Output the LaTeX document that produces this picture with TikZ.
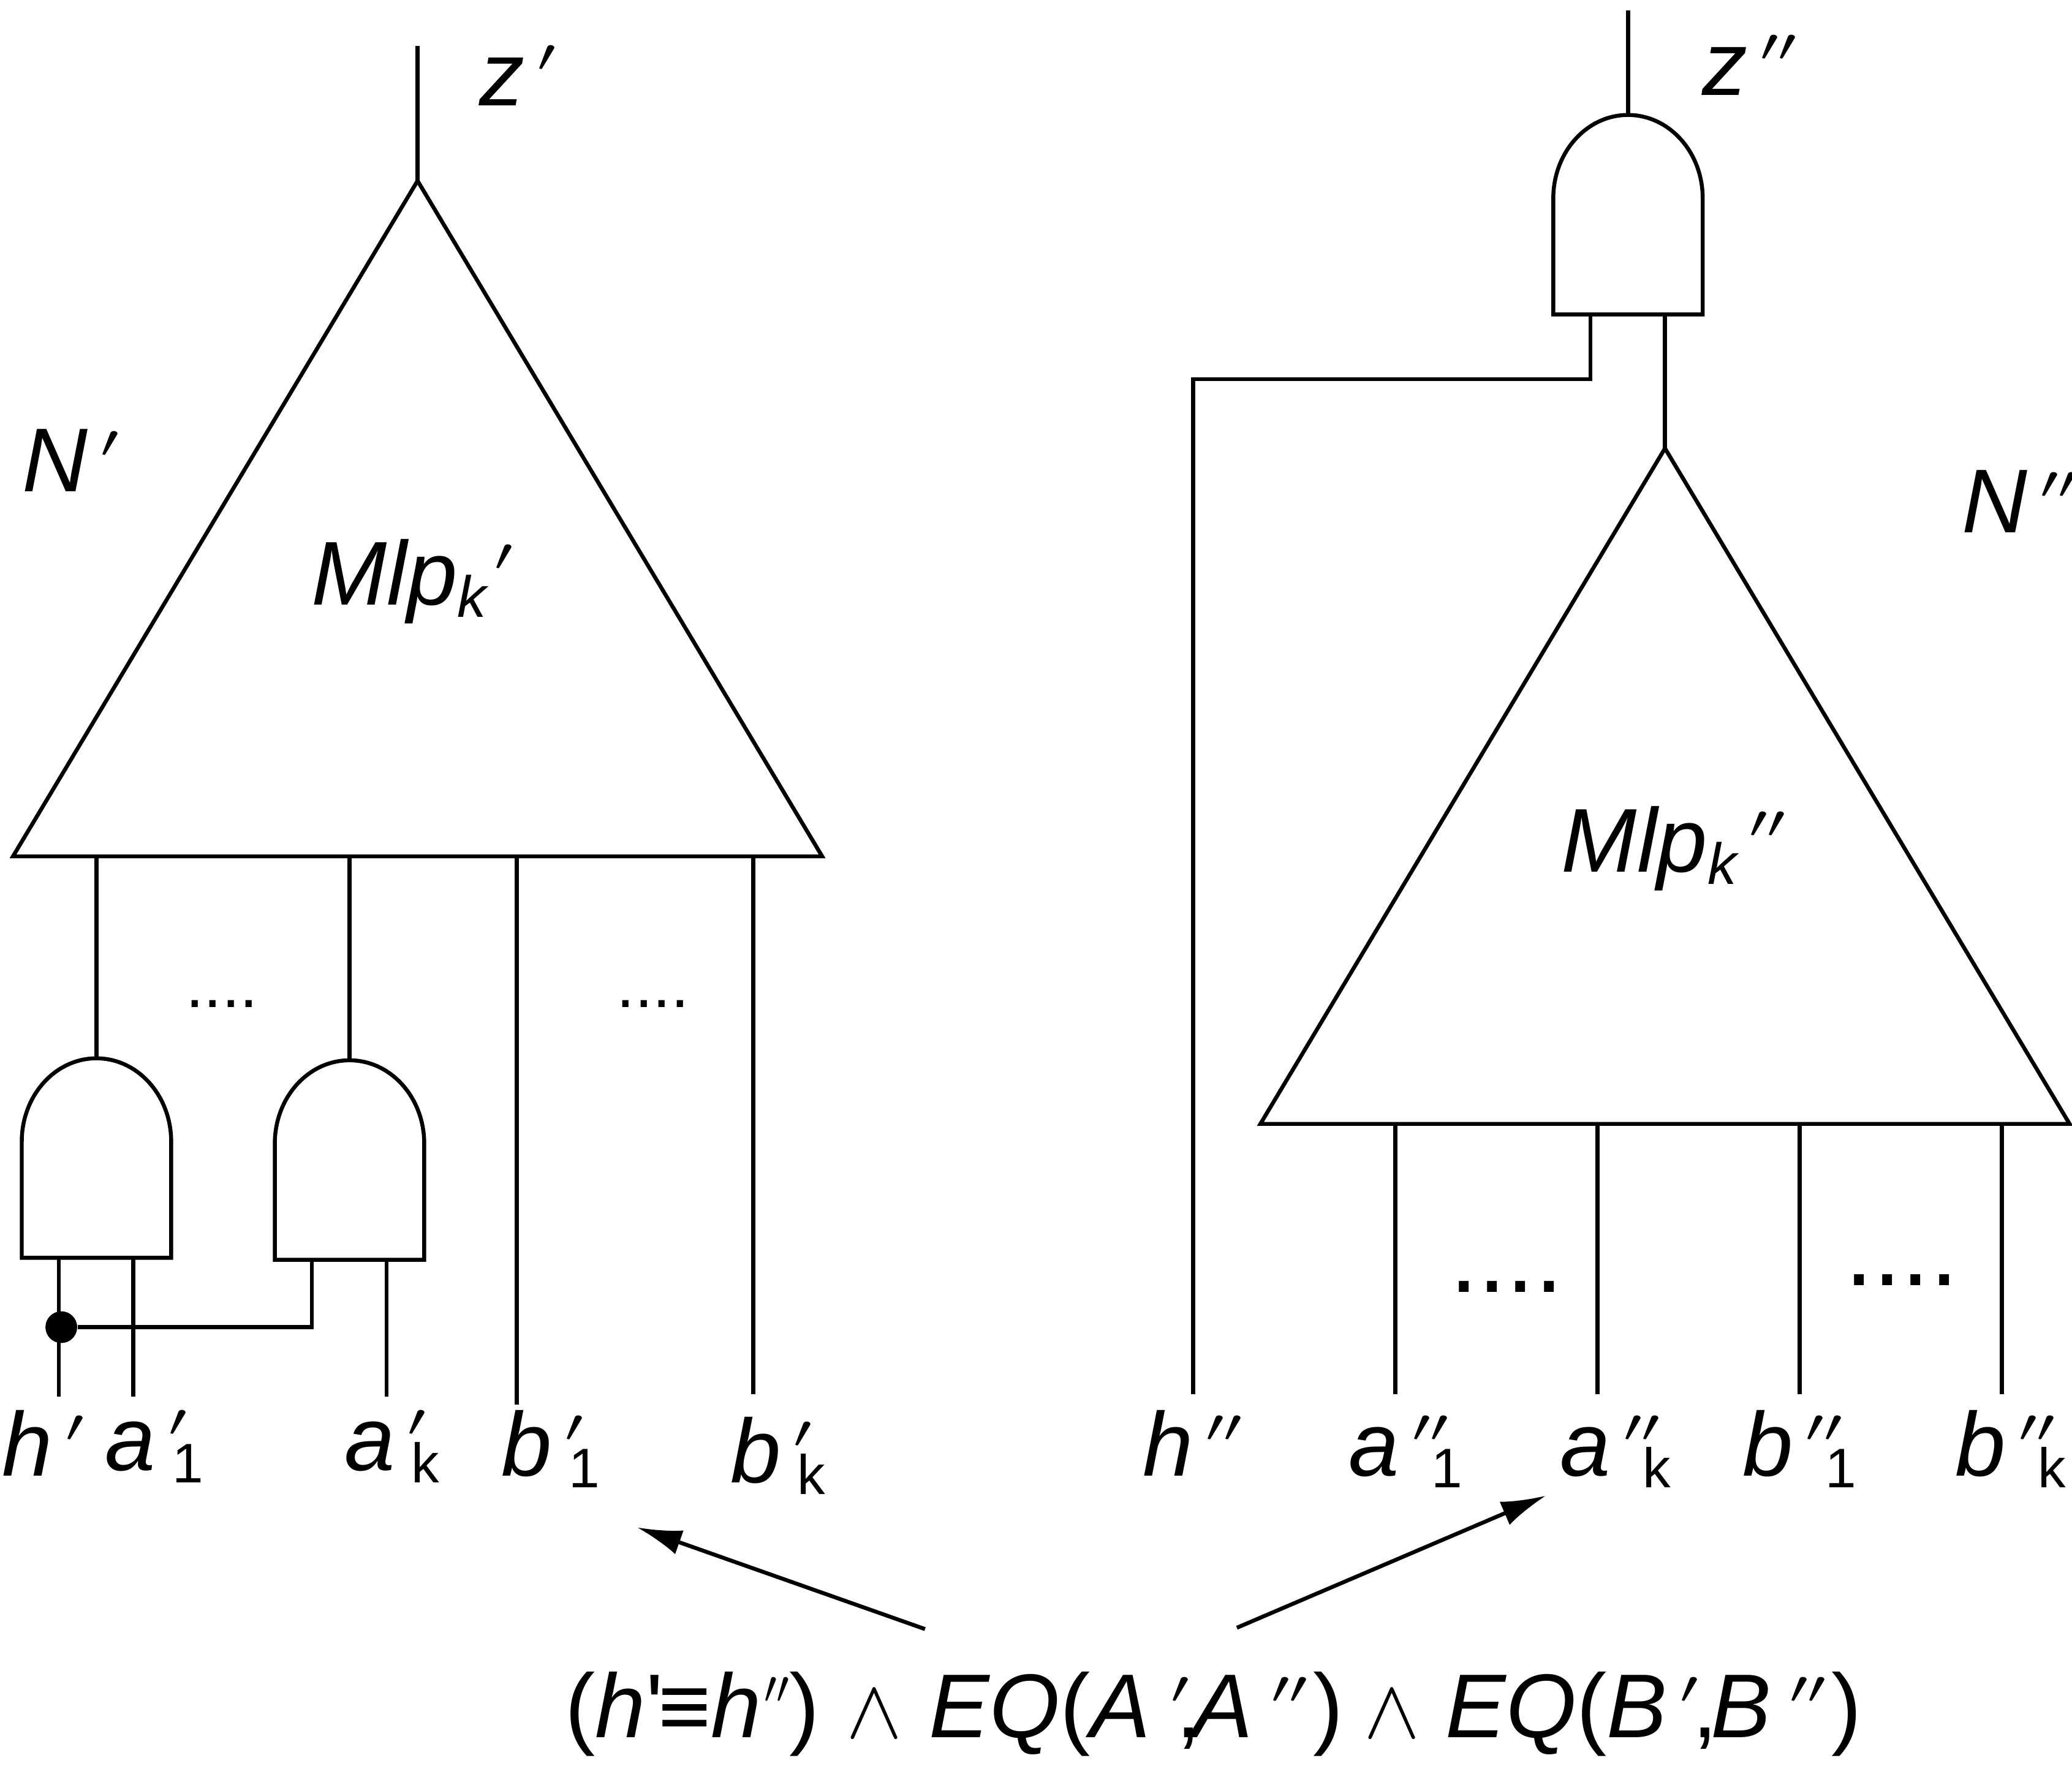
\documentclass[tikz,border=0pt]{standalone}
\usepackage{fontspec}
\setmainfont{Liberation Sans}
\newfontfamily\plainfont{Liberation Sans}
\usetikzlibrary{arrows.meta}
\def\primeglyph{\raisebox{7.4pt}{\scalebox{1.4}[1]{\fontsize{10}{12}\selectfont$\prime$}}}
\def\pr{\kern2.8pt\primeglyph\kern-1.25pt}
\def\dpr{\kern2.8pt\primeglyph\primeglyph\kern-1.7pt}
\def\conj{\scalebox{0.87}{$\wedge$}}
\def\lowtext#1{\raisebox{-2.6pt}{\fontsize{12.5}{14}\selectfont #1}}
\def\subtext#1{\kern-1.8pt\raisebox{-2.6pt}{\fontsize{12}{14}\selectfont\upshape #1}}
\tikzset{
  lbl/.style={anchor=base west,inner sep=0pt,font=\fontsize{19.5}{22}\selectfont\itshape},
  dotsmall/.style={inner sep=0pt,font=\fontsize{14}{16}\selectfont},
  dotlarge/.style={inner sep=0pt,font=\fontsize{22}{24}\selectfont},
  andgate/.style={inner sep=0pt,outer sep=0pt,minimum width=1.13cm,minimum height=1.51cm,
    append after command={(\tikzlastnode.south west) -- (\tikzlastnode.south east) -- ++(0,-88)
      arc[start angle=0,end angle=180,x radius=0.565cm,y radius=0.63cm] -- cycle}},
  blocktri/.style={inner sep=0pt,outer sep=0pt,minimum width=6.12cm,minimum height=5.11cm,
    append after command={(\tikzlastnode.south west) -- (\tikzlastnode.south east) -- (\tikzlastnode.north) -- cycle}},
  jdot/.style={circle,fill=black,inner sep=0pt,minimum size=0.24cm},
  wire/.style={line width=0.85pt},
  pointer/.style={line width=0.85pt,-{Latex[length=0.34cm,width=0.19cm]}}
}
\begin{document}
\begin{tikzpicture}[x=0.01cm,y=-0.01cm]
\useasboundingbox (0,0) rectangle (1568,1336.6);
\draw[wire] (316,392.5) node[blocktri] (mlpa) {};
\draw[wire] (1260,595) node[blocktri] (mlpb) {};
\draw[wire] (73,876.5) node[andgate] (gatea) {};
\draw[wire] (264.5,878) node[andgate] (gateb) {};
\draw[wire] (1232,162.5) node[andgate] (gatec) {};
\coordinate (zpend) at (316,35);
\coordinate (zqend) at (1232,8);
\coordinate (hpend) at (44.6,1057);
\coordinate (apend) at (100.8,1057);
\coordinate (akend) at (292.5,1057);
\coordinate (bpend) at (391,1063);
\coordinate (bkend) at (570,1055);
\coordinate (gbin) at (236,1004.5);
\coordinate (hqend) at (903,1055);
\coordinate (hqturn) at (903,287);
\coordinate (gcin) at (1203.5,287);
\coordinate (aqend) at (1056,1055);
\coordinate (alend) at (1209,1055);
\coordinate (bqend) at (1362,1055);
\coordinate (bmend) at (1515,1055);
\draw[wire] (zpend) -- (mlpa.north);
\draw[wire] (gatea.north) -- (gatea.north |- mlpa.south);
\draw[wire] (gateb.north) -- (gateb.north |- mlpa.south);
\draw[wire] (bpend |- mlpa.south) -- (bpend);
\draw[wire] (bkend |- mlpa.south) -- (bkend);
\draw[wire] (hpend |- gatea.south) -- (hpend);
\draw[wire] (apend |- gatea.south) -- (apend);
\draw[wire] (akend |- gateb.south) -- (akend);
\node[jdot] (junc) at (46.4,1004.5) {};
\draw[wire] (junc) -- (gbin) -- (gbin |- gateb.south);
\draw[wire] (zqend) -- (gatec.north);
\draw[wire] (hqend) -- (hqturn) -- (gcin) -- (gcin |- gatec.south);
\draw[wire] (mlpb.north |- gatec.south) -- (mlpb.north);
\foreach \e in {aqend,alend,bqend,bmend}
  \draw[wire] (\e |- mlpb.south) -- (\e);
\node[lbl] (zplbl) at (362,80) {z\pr};
\node[lbl] (zqlbl) at (1287.5,72) {z\dpr};
\node[lbl] (nplbl) at (16,372) {N\pr};
\node[lbl] (nqlbl) at (1484,403) {N\dpr};
\node[lbl] (mlpalbl) at (235,458) {Mlp\lowtext{k}\kern-1pt\pr};
\node[lbl] (mlpblbl) at (1181,660) {Mlp\lowtext{k}\dpr};
\node[lbl] (hplbl) at (1,1117) {h\pr};
\node[lbl] (aplbl) at (79,1113) {a\pr\subtext{1}};
\node[lbl] (aklbl) at (260,1113) {a\pr\subtext{k}};
\node[lbl] (bplbl) at (379,1117) {b\pr\subtext{1}};
\node[lbl] (bklbl) at (552,1122) {b\pr\subtext{k}};
\node[lbl] (hqlbl) at (864,1117) {h\dpr};
\node[lbl] (aqlbl) at (1020,1117) {a\dpr\subtext{1}};
\node[lbl] (allbl) at (1180,1117) {a\dpr\subtext{k}};
\node[lbl] (bqlbl) at (1318,1117) {b\dpr\subtext{1}};
\node[lbl] (bmlbl) at (1479,1117) {b\dpr\subtext{k}};
\node[dotsmall] (dotsa) at (168,760) {....};
\node[dotsmall] (dotsb) at (494,760) {....};
\node[dotlarge] (dotsc) at (1140,974) {....};
\node[dotlarge] (dotsd) at (1439,969) {....};
\node[lbl,font=\fontsize{19.5}{22}\selectfont] (eqlbl) at (427,1315) {(\textit{h}{\plainfont\char"27}\kern-1pt≡\textit{h}\kern-1.4pt\scalebox{0.7}[1]{\dpr}\kern1.2pt)\kern5.8pt\conj\kern5.8pt\textit{EQ}(\textit{A}\kern1.5pt\pr\kern-1.5pt,\kern-1.8pt\textit{A}\kern1.1pt\dpr\kern3pt)\kern4.5pt\conj\kern5.5pt\textit{EQ}(\textit{B}\pr,\kern-1.4pt\textit{B}\kern1.1pt\dpr\kern3pt)};
\coordinate (leftstart) at (700,1233);
\coordinate (leftend) at (482,1156);
\coordinate (rightstart) at (936,1232);
\coordinate (rightend) at (1170,1132);
\draw[pointer] (leftstart) -- (leftend);
\draw[pointer] (rightstart) -- (rightend);
\end{tikzpicture}
\end{document}
